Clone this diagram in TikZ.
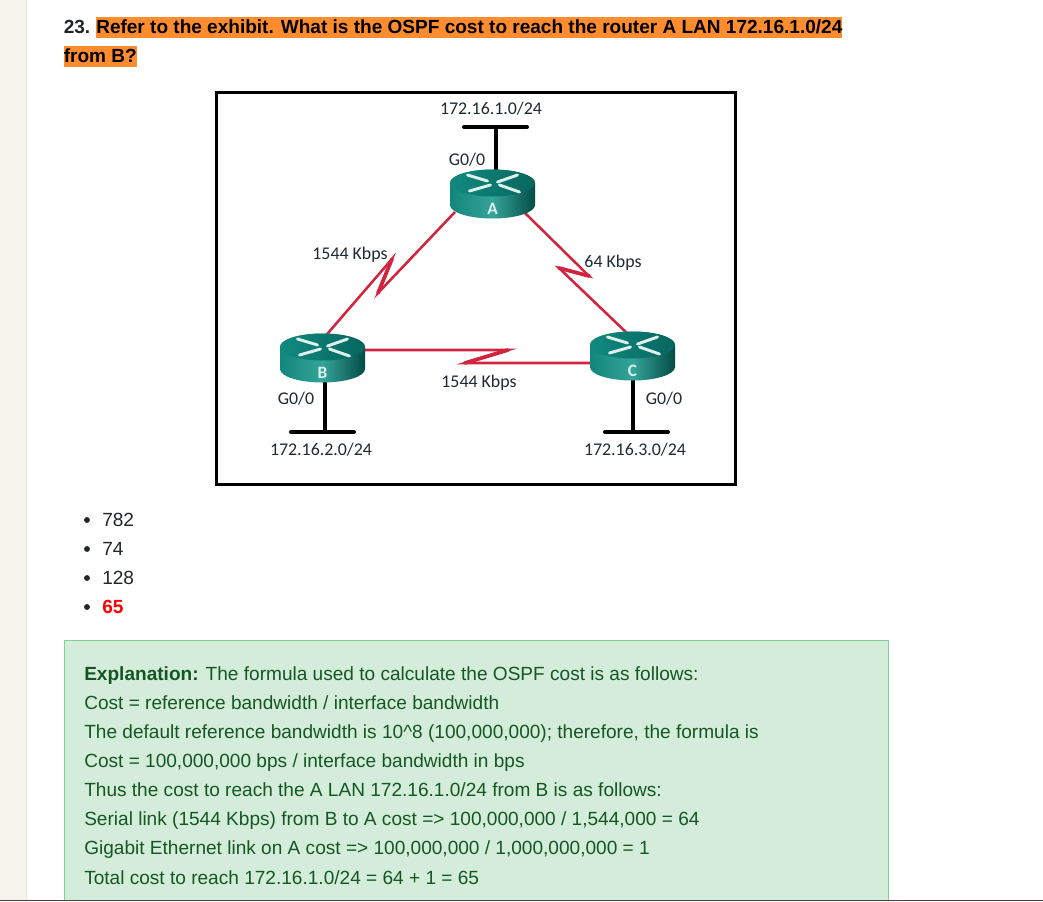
\documentclass[tikz,border=0pt]{standalone}
\usepackage{fontspec}
\setmainfont{Liberation Sans}
\newfontfamily\calfont{Carlito}
\definecolor{strip}{HTML}{F6F4EA}
\definecolor{stripedge}{HTML}{E6E4DC}
\definecolor{hilite}{HTML}{FF8C2E}
\definecolor{boxfill}{HTML}{D4EDDA}
\definecolor{boxedge}{HTML}{82CF93}
\definecolor{boxtext}{HTML}{155724}
\definecolor{bodytext}{HTML}{212529}
\definecolor{footline}{HTML}{4A3F47}
\definecolor{serial}{HTML}{D2243F}
\definecolor{rtop}{HTML}{118A80}
\definecolor{rtopdark}{HTML}{06665E}
\definecolor{rleft}{HTML}{12867C}
\definecolor{rmid}{HTML}{35A499}
\definecolor{rright}{HTML}{034C46}
\definecolor{netlabel}{HTML}{1F2A33}
\definecolor{rarrow}{HTML}{DDF0EC}
\tikzset{
  head/.style={anchor=base west,inner sep=0pt,font=\fontsize{14.27pt}{16pt}\selectfont\bfseries,text=bodytext},
  headhl/.style={head,text=black},
  hlbar/.style={fill=hilite,draw=none},
  item/.style={anchor=base west,inner sep=0pt,font=\fontsize{14.3pt}{16pt}\selectfont,text=bodytext},
  bullet/.style={circle,fill=bodytext,draw=none,inner sep=0pt,minimum size=4.4pt},
  expl/.style={anchor=base west,inner sep=0pt,font=\fontsize{14.3pt}{16pt}\selectfont,text=boxtext},
  netlab/.style={inner sep=0pt,font=\calfont\fontsize{13.4pt}{15pt}\selectfont,text=netlabel},
  rlabel/.style={inner sep=0pt,font=\calfont\fontsize{13pt}{14pt}\selectfont\bfseries,text=rarrow},
  lan/.style={line width=3pt,black,line cap=round},
  wan/.style={line width=1.9pt,serial,line join=miter},
  wantip/.style={line width=2.8pt,serial,line cap=round},
  xarrow/.style={line width=2.2pt,rarrow,line cap=round},
  hub/.style={inner sep=0pt,minimum width=64pt,minimum height=37pt,draw=none}
}
% #1 name, #2 centre x, #3 y of the top ellipse centre, #4 letter
\newcommand{\routerdraw}[4]{%
  \begin{scope}[shift={(#2,#3)}]
    \path[left color=rleft,right color=rright,middle color=rmid]
      (-42.5,0) -- (-42.5,22) arc[start angle=180,end angle=0,x radius=42.5,y radius=13.5]
      -- (42.5,0) arc[start angle=0,end angle=-180,x radius=42.5,y radius=13.5] -- cycle;
    \path[left color=rtop,right color=rtopdark] (0,0) ellipse[x radius=42.5,y radius=13.5];
    \draw[xarrow] (-25,-8) -- (-5,-2);
    \draw[xarrow] (-23,8) -- (-2,2);
    \draw[xarrow] (25,-8) -- (5,-1);
    \draw[xarrow] (27,9) -- (7,2);
    \node[hub] (#1) at (0,10) {};
    \node[rlabel] (#1lab) at (0,26) {#4};
  \end{scope}}
\begin{document}
\begin{tikzpicture}[x=0.75pt,y=-0.75pt]
\useasboundingbox (0,0) rectangle (1043,901);
\fill[white] (0,0) rectangle (1043,901);
\fill[strip] (0,0) rectangle (26,901);
\draw[stripedge,line width=0.75pt] (26,0) -- (26,901);

% heading
\fill[hlbar] (96,17) rectangle (842,38);
\fill[hlbar] (64,46) rectangle (137,67);
\node[head] (qnum) at (63.5,33) {23.};
\node[headhl] (q1) at (96,33) {Refer to the exhibit. What is the OSPF cost to reach the router A LAN 172.16.1.0/24};
\node[headhl] (q2) at (63.5,62) {from B?};

% exhibit frame
\node[draw=black,line width=2.25pt,inner sep=0pt,outer sep=0pt,minimum width=389.25pt,minimum height=294pt] (frame) at (476,288.5) {};

% anchors on the router edges and lightning tips
\coordinate (abstart) at (455,212);
\coordinate (abtipl) at (378,293);
\coordinate (abtipu) at (392,259);
\coordinate (abend) at (322,340);
\coordinate (bcstart) at (365,350);
\coordinate (bctipr) at (508,350);
\coordinate (bctipl) at (465,363);
\coordinate (bcend) at (590,363);
\coordinate (acstart) at (525,213);
\coordinate (actipr) at (589,276);
\coordinate (actipl) at (559,268);
\coordinate (acend) at (630,336);

% LAN stubs
\coordinate (lanAl) at (464,127);
\coordinate (lanAr) at (527,127);
\coordinate (lanA) at (496,127);
\coordinate (portA) at (496,172);
\coordinate (lanBl) at (291,432);
\coordinate (lanBr) at (354,432);
\coordinate (lanB) at (325,432);
\coordinate (portB) at (325,381);
\coordinate (lanCl) at (605,432);
\coordinate (lanCr) at (668,432);
\coordinate (lanC) at (633,432);
\coordinate (portC) at (633,378);
\draw[lan] (lanAl) -- (lanAr);
\draw[lan,line cap=butt] (lanA) -- (portA);
\draw[lan] (lanBl) -- (lanBr);
\draw[lan,line cap=butt] (lanB) -- (portB);
\draw[lan] (lanCl) -- (lanCr);
\draw[lan,line cap=butt] (lanC) -- (portC);

% serial links
\draw[wan] (abstart) -- (abtipl) -- (abtipu) -- (abend);
\draw[wantip] (abtipl) -- (abtipu);
\draw[wan] (bcstart) -- (bctipr) -- (bctipl) -- (bcend);
\draw[wantip] (bctipr) -- (bctipl);
\draw[wan] (acstart) -- (actipr) -- (actipl) -- (acend);
\draw[wantip] (actipr) -- (actipl);

% routers
\routerdraw{A}{492.5}{183}{A}
\routerdraw{B}{322.5}{347}{B}
\routerdraw{C}{632.5}{345}{C}

% labels
\node[netlab] (netA) at (491,109) {172.16.1.0/24};
\node[netlab] (gA) at (467,160) {G0/0};
\node[netlab] (linkAB) at (350,254.5) {1544 Kbps};
\node[netlab] (linkAC) at (613,262.5) {64 Kbps};
\node[netlab] (linkBC) at (479,383) {1544 Kbps};
\node[netlab] (gB) at (296,398.5) {G0/0};
\node[netlab] (gC) at (664,398.5) {G0/0};
\node[netlab] (netB) at (321,449.5) {172.16.2.0/24};
\node[netlab] (netC) at (635,449.5) {172.16.3.0/24};

% answer list
\node[bullet] (b1) at (87,520) {};
\node[bullet] (b2) at (87,549) {};
\node[bullet] (b3) at (87,578) {};
\node[bullet] (b4) at (87,607) {};
\node[item] (a1) at (102,526) {782};
\node[item] (a2) at (102,555) {74};
\node[item] (a3) at (102,584) {128};
\node[item,text=red,font=\fontsize{14.3pt}{16pt}\selectfont\bfseries] (a4) at (102,613) {65};

% explanation box
\path[fill=boxfill] (64,640) rectangle (888.5,901);
\draw[boxedge,line width=0.75pt] (64.5,901) -- (64.5,640) -- (888.5,640) -- (888.5,901);
\node[expl] (e1) at (84,680) {\textbf{Explanation:} The formula used to calculate the OSPF cost is as follows:};
\node[expl] (e2) at (84,709) {Cost = reference bandwidth / interface bandwidth};
\node[expl] (e3) at (84,738) {The default reference bandwidth is 10\^{}8 (100,000,000); therefore, the formula is};
\node[expl] (e4) at (84,767.5) {Cost = 100,000,000 bps / interface bandwidth in bps};
\node[expl] (e5) at (84,796.5) {Thus the cost to reach the A LAN 172.16.1.0/24 from B is as follows:};
\node[expl] (e6) at (84,825.5) {Serial link (1544 Kbps) from B to A cost => 100,000,000 / 1,544,000 = 64};
\node[expl] (e7) at (84,854.5) {Gigabit Ethernet link on A cost => 100,000,000 / 1,000,000,000 = 1};
\node[expl] (e8) at (84,884) {Total cost to reach 172.16.1.0/24 = 64 + 1 = 65};

% window edge
\fill[footline] (0,900) rectangle (1043,901);
\end{tikzpicture}
\end{document}
